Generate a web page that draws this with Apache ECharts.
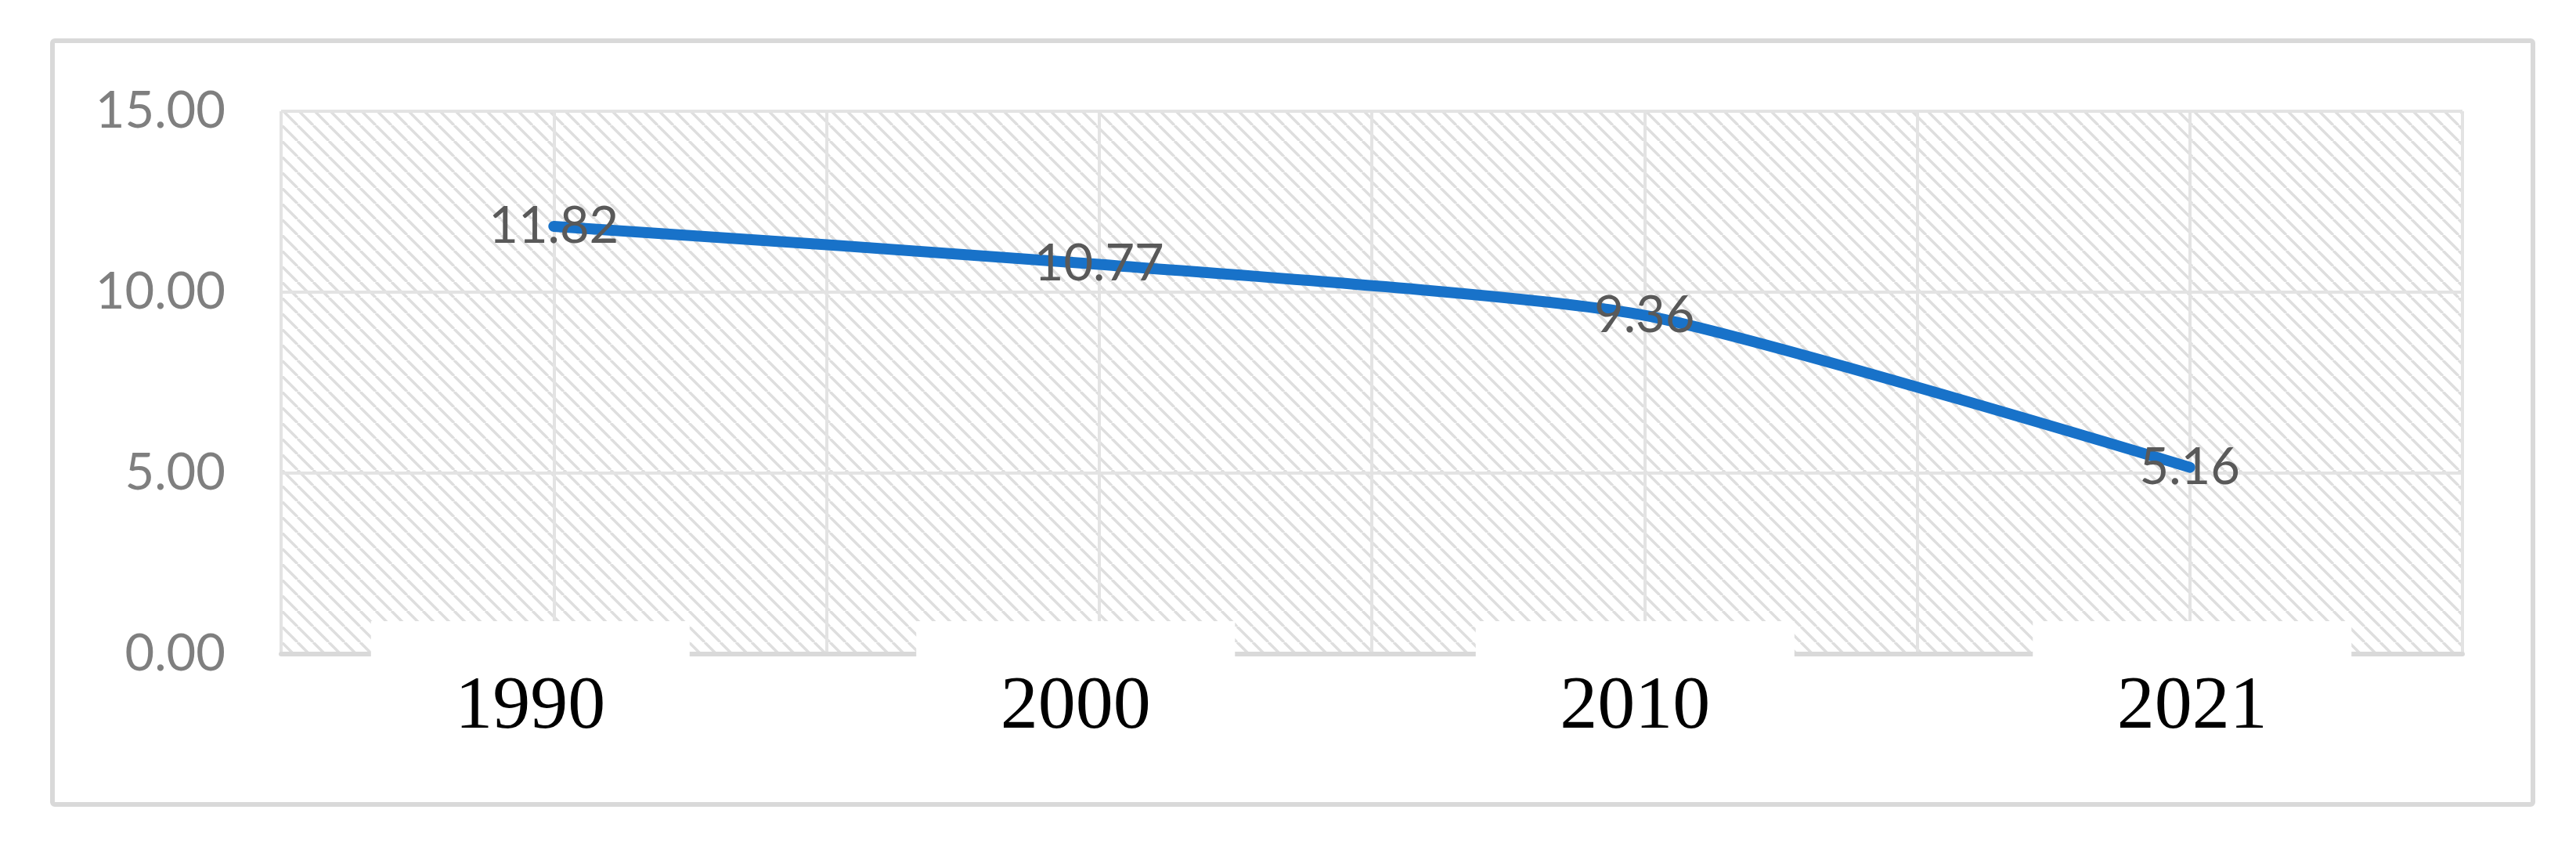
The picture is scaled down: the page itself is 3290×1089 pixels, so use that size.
<!DOCTYPE html>
<html>
<head>
<meta charset="utf-8">
<style>
  html, body { margin: 0; padding: 0; background: #ffffff; }
  #chart { width: 3290px; height: 1089px; }
</style>
<script src="https://cdn.jsdelivr.net/npm/echarts@6/dist/echarts.min.js"></script>
</head>
<body>
<div id="chart"></div>
<script>
// ---- data ----
const years = ['1990', '2000', '2010', '2021'];
const values = [11.82, 10.77, 9.36, 5.16];
const yTicks = { min: 0, max: 15, interval: 5 };

// ---- styling helpers (not data) ----
const labelShift = [-30, -30, -12, 3];   // horizontal nudge of each year label box

function makeHatch() {
  const s = 20;
  const c = document.createElement('canvas');
  c.width = s; c.height = s;
  const g = c.getContext('2d');
  g.fillStyle = '#ffffff';
  g.fillRect(0, 0, s, s);
  g.strokeStyle = '#dedede';
  g.lineWidth = 3.5;
  for (const x0 of [-s, 0, s]) {
    g.beginPath();
    g.moveTo(x0, 0);
    g.lineTo(x0 + s, s);
    g.stroke();
  }
  return c;
}

const chart = echarts.init(document.getElementById('chart'), null, { renderer: 'canvas' });

const rich = {
  box: {
    width: 407, height: 222, lineHeight: 222, align: 'center',
    backgroundColor: '#ffffff',
    fontFamily: 'Liberation Serif', fontSize: 96, color: '#000000'
  }
};
labelShift.forEach(function (d, i) {
  rich['sp' + i] = { width: Math.abs(d) * 2, fontSize: 1, color: 'rgba(0,0,0,0)' };
});

const option = {
  backgroundColor: '#ffffff',
  animation: false,
  graphic: [{
    type: 'rect',
    shape: { x: 67, y: 52, width: 3168, height: 975, r: 3 },
    style: { fill: 'none', stroke: '#d9d9d9', lineWidth: 6 },
    z: -10,
    silent: true
  }],
  grid: {
    left: 359, right: 145, top: 142, bottom: 254,
    show: true,
    backgroundColor: { image: makeHatch(), repeat: 'repeat' },
    borderWidth: 0
  },
  xAxis: [{
    type: 'category',
    data: years,
    boundaryGap: true,
    axisTick: { show: false },
    axisLine: { show: true, lineStyle: { color: '#d9d9d9', width: 6 } },
    splitLine: { show: false },
    axisLabel: {
      interval: 0,
      margin: -42,
      formatter: function (v, i) {
        const d = labelShift[i] || 0;
        if (d < 0) return '{box|' + v + '}{sp' + i + '| }';
        if (d > 0) return '{sp' + i + '| }{box|' + v + '}';
        return '{box|' + v + '}';
      },
      rich: rich
    }
  }, {
    type: 'value',
    position: 'top',
    min: 0, max: years.length, interval: 0.5,
    axisLine: { show: false },
    axisTick: { show: false },
    axisLabel: { show: false },
    splitLine: { show: true, lineStyle: { color: '#e3e3e3', width: 4 } }
  }],
  yAxis: {
    type: 'value',
    min: yTicks.min, max: yTicks.max, interval: yTicks.interval,
    axisLine: { show: false },
    axisTick: { show: false },
    splitLine: { show: true, lineStyle: { color: '#e3e3e3', width: 4 } },
    axisLabel: {
      margin: 71,
      fontFamily: 'Lato', fontSize: 65, color: '#7f7f7f',
      formatter: function (v) { return v.toFixed(2); }
    }
  },
  series: [{
    type: 'line',
    xAxisIndex: 0,
    data: values,
    smooth: 0.2,
    symbol: 'circle',
    symbolSize: 2,
    showSymbol: true,
    itemStyle: { color: 'rgba(0,0,0,0)', borderWidth: 0 },
    lineStyle: { color: '#1872c9', width: 14, cap: 'round', join: 'round' },
    label: {
      show: true,
      position: 'inside',
      fontFamily: 'Lato', fontSize: 65, color: '#595959',
      formatter: function (p) { return p.value.toFixed(2); }
    },
    z: 5
  }]
};
chart.setOption(option);
</script>
</body>
</html>
